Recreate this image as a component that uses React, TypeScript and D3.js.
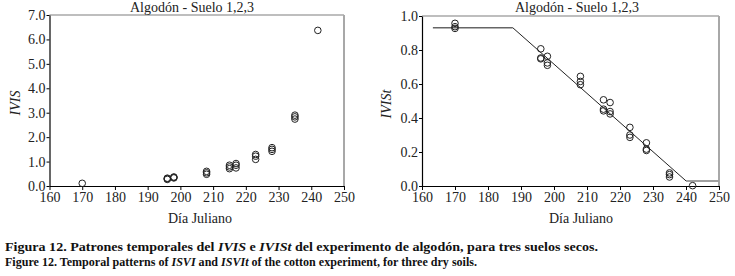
import React, { useEffect, useRef } from "react";
import * as d3 from "d3";

const daysIVIS = [170, 196, 196, 196, 198, 198, 198, 208, 208, 208, 215, 215, 215, 217, 217, 217, 223, 223, 223, 228, 228, 228, 235, 235, 235, 242];
const valuesIVIS = [0.11, 0.30, 0.27, 0.32, 0.37, 0.33, 0.35, 0.60, 0.54, 0.48, 0.85, 0.78, 0.71, 0.92, 0.85, 0.74, 1.29, 1.22, 1.09, 1.57, 1.50, 1.42, 2.90, 2.83, 2.74, 6.37];

const daysIVISt = [170, 170, 170, 196, 196, 196, 198, 198, 198, 208, 208, 208, 215, 215, 215, 217, 217, 217, 223, 223, 223, 228, 228, 228, 235, 235, 235, 242];
const valuesIVISt = [0.957, 0.937, 0.927, 0.807, 0.753, 0.748, 0.763, 0.724, 0.71, 0.645, 0.615, 0.596, 0.507, 0.452, 0.442, 0.491, 0.438, 0.424, 0.345, 0.30, 0.286, 0.254, 0.217, 0.209, 0.077, 0.067, 0.053, 0.002];

const fitPlateauDays = [163.3, 187.5];
const fitPlateauValue = 0.931;
const fitSlopeDays = [187.5, 240];
const fitSlopeValues = [0.931, 0.03];
const fitFloorDays = [240, 250];
const fitFloorValue = 0.03;

const xTicks = [160, 170, 180, 190, 200, 210, 220, 230, 240, 250];
const yTicksIVIS = [0, 1, 2, 3, 4, 5, 6, 7];
const yTicksIVISt = [0, 0.2, 0.4, 0.6, 0.8, 1.0];

const titleText = "Algodón - Suelo 1,2,3";
const xTitle = "Día Juliano";

const FONT = "Liberation Serif, Times New Roman, DejaVu Serif, Noto Serif, serif";

export default function App() {
  const ref = useRef<SVGGElement | null>(null);

  useEffect(() => {
    const svg = d3.select(ref.current);
    svg.selectAll("*").remove();

    const panels = [
      {
        left: 49.5, right: 344, top: 15, bottom: 186,
        yMax: 7, yTicks: yTicksIVIS, days: daysIVIS, vals: valuesIVIS,
        yLabel: "IVIS", yLabelX: 15, yLabelY: 103, titleX: 192, xTitleX: 200, fit: false,
      },
      {
        left: 422, right: 719, top: 16, bottom: 186,
        yMax: 1, yTicks: yTicksIVISt, days: daysIVISt, vals: valuesIVISt,
        yLabel: "IVISt", yLabelX: 386, yLabelY: 104, titleX: 577, xTitleX: 581, fit: true,
      },
    ];

    panels.forEach((p) => {
      const x = d3.scaleLinear().domain([160, 250]).range([p.left, p.right]);
      const y = d3.scaleLinear().domain([0, p.yMax]).range([p.bottom, p.top]);
      const g = svg.append("g");

      g.append("line").attr("x1", p.left).attr("x2", p.right).attr("y1", p.top).attr("y2", p.top)
        .attr("stroke", "#a8a8a8").attr("stroke-width", 1.5);
      g.append("line").attr("x1", p.right).attr("x2", p.right).attr("y1", p.top).attr("y2", p.bottom)
        .attr("stroke", "#a8a8a8").attr("stroke-width", 2);

      const xAxis = g.append("g").attr("transform", `translate(0,${p.bottom})`)
        .call(d3.axisBottom(x).tickValues(xTicks).tickFormat(d3.format("d")).tickSize(4).tickSizeOuter(0).tickPadding(2));
      const yAxis = g.append("g").attr("transform", `translate(${p.left},0)`)
        .call(d3.axisLeft(y).tickValues(p.yTicks).tickFormat(d3.format(".1f")).tickSize(3).tickSizeOuter(0).tickPadding(1));
      [xAxis, yAxis].forEach((a) => {
        a.attr("font-family", FONT).attr("font-size", 14);
        a.selectAll("path").attr("stroke", "#000").attr("stroke-width", 1.2);
        a.selectAll("line").attr("stroke", "#000");
        a.selectAll("text").attr("font-family", FONT).attr("font-size", 14).attr("fill", "#222");
      });

      if (p.fit) {
        g.append("line").attr("x1", x(fitPlateauDays[0])).attr("x2", x(fitPlateauDays[1]))
          .attr("y1", y(fitPlateauValue)).attr("y2", y(fitPlateauValue))
          .attr("stroke", "#666").attr("stroke-width", 1.3);
        g.append("line").attr("x1", x(fitSlopeDays[0])).attr("x2", x(fitSlopeDays[1]))
          .attr("y1", y(fitSlopeValues[0])).attr("y2", y(fitSlopeValues[1]))
          .attr("stroke", "#222").attr("stroke-width", 1);
        g.append("line").attr("x1", x(fitFloorDays[0])).attr("x2", x(fitFloorDays[1]))
          .attr("y1", y(fitFloorValue)).attr("y2", y(fitFloorValue))
          .attr("stroke", "#a0a0a0").attr("stroke-width", 2);
      }

      g.selectAll("circle.pt").data(p.days).enter().append("circle")
        .attr("class", "pt")
        .attr("cx", (d) => x(d))
        .attr("cy", (_d, i) => y(p.vals[i]))
        .attr("r", 3.3)
        .attr("fill", "none")
        .attr("stroke", "#222")
        .attr("stroke-width", 1);

      g.append("text").attr("x", p.titleX).attr("y", 12).attr("text-anchor", "middle")
        .attr("font-family", FONT).attr("font-size", 14).attr("fill", "#222").text(titleText);
      g.append("text").attr("x", p.xTitleX).attr("y", 223).attr("text-anchor", "middle")
        .attr("font-family", FONT).attr("font-size", 14).attr("fill", "#222").text(xTitle);
      g.append("text")
        .attr("transform", `translate(${p.yLabelX + 5},${p.yLabelY}) rotate(-90)`)
        .attr("text-anchor", "middle")
        .attr("font-family", FONT).attr("font-size", 14).attr("font-style", "italic").attr("fill", "#222")
        .text(p.yLabel);
    });
  }, []);

  return (
    <svg width={735} height={276}
      style={{ position: "absolute", left: 0, top: 0, background: "#fff", display: "block" }}>
      <g ref={ref} />
      <text x={5} y={251} fontFamily={FONT} fontSize={11.5} fontWeight="bold" fill="#111"
        textLength={593} lengthAdjust="spacingAndGlyphs">
        Figura 12. Patrones temporales del <tspan fontStyle="italic">IVIS</tspan> e <tspan fontStyle="italic">IVISt</tspan> del experimento de algodón, para tres suelos secos.
      </text>
      <text x={5} y={266} fontFamily={FONT} fontSize={11.5} fontWeight="bold" fill="#111"
        textLength={472} lengthAdjust="spacingAndGlyphs">
        Figure 12. Temporal patterns of <tspan fontStyle="italic">ISVI</tspan> and <tspan fontStyle="italic">ISVIt</tspan> of the cotton experiment, for three dry soils.
      </text>
    </svg>
  );
}
